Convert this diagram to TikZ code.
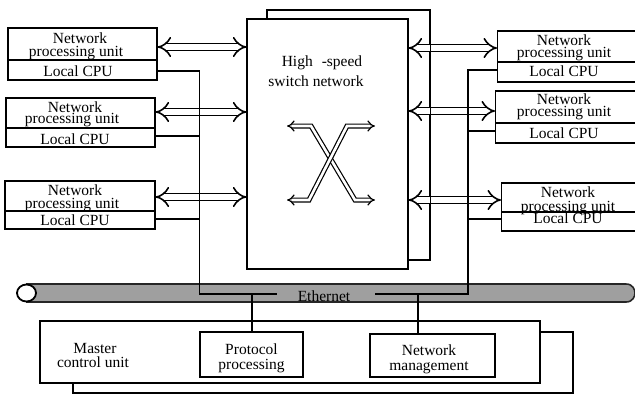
\documentclass[tikz,border=0pt]{standalone}
\usepackage{fontspec}
\setmainfont{Liberation Serif}
\usetikzlibrary{arrows.meta}
\begin{document}
\begin{tikzpicture}[x=1pt,y=-1pt,
  every node/.style={font=\fontsize{15.5}{16}\selectfont},
  box/.style={draw,line width=1.3pt,fill=white,inner sep=0pt},
  lbl/.style={anchor=base,inner sep=0pt},
  wire/.style={line width=1.3pt},
  dbl/.style={double,line width=1.6pt,double distance=5.4pt,{Implies}-{Implies}},
  xstroke/.style={double,line width=1.2pt,double distance=2.6pt,{Implies}-{Implies}},
]
\useasboundingbox (0,0) rectangle (635,396);
\clip (0,0) rectangle (635,396);

% ---------- switch fabric (two stacked planes) ----------
\node[box,minimum width=163pt,minimum height=250pt] (SWb) at (348.5,135) {};
\node[box,minimum width=161pt,minimum height=250pt] (SW) at (327.5,144) {};
\node[lbl] (swt1) at (322,66.5) {High\hspace{9pt}-speed};
\node[lbl] (swt2) at (316,86.5) {switch network};
\draw[xstroke] (287,126) -- (311,126) -- (355,200) -- (375,200);
\draw[xstroke] (375,126) -- (347,126) -- (309,200) -- (287,200);

% ---------- line cards, left ----------
\node[box,minimum width=149pt,minimum height=52pt] (L1) at (82.5,54) {};
\node[box,minimum width=149pt,minimum height=49pt] (L2) at (80.5,122.5) {};
\node[box,minimum width=150pt,minimum height=48pt] (L3) at (80,205) {};
\draw[wire] (L1.west |- 0,60) -- (L1.east |- 0,60);
\draw[wire] (L2.west |- 0,128) -- (L2.east |- 0,128);
\draw[wire] (L3.west |- 0,211) -- (L3.east |- 0,211);
\node[lbl] at (80,44) {Network};
\node[lbl] at (76,57) {processing unit};
\node[lbl] at (78,77) {Local CPU};
\node[lbl] at (75,112) {Network};
\node[lbl] at (72,124) {processing unit};
\node[lbl] at (75,144) {Local CPU};
\node[lbl] at (75,195) {Network};
\node[lbl] at (72,208) {processing unit};
\node[lbl] at (75,225) {Local CPU};

% ---------- line cards, right ----------
\node[box,minimum width=150pt,minimum height=51pt,anchor=west] (R1) at (497,56.5) {};
\node[box,minimum width=150pt,minimum height=52pt,anchor=west] (R2) at (495,117) {};
\node[box,minimum width=150pt,minimum height=48pt,anchor=west] (R3) at (501,207) {};
\draw[wire] (R1.west |- 0,62) -- (R1.east |- 0,62);
\draw[wire] (R2.west |- 0,123) -- (R2.east |- 0,123);
\draw[wire] (R3.west |- 0,212) -- (R3.east |- 0,212);
\node[lbl] at (564,46) {Network};
\node[lbl] at (564,58) {processing unit};
\node[lbl] at (564,77) {Local CPU};
\node[lbl] at (564,104) {Network};
\node[lbl] at (564,117) {processing unit};
\node[lbl] at (564,138) {Local CPU};
\node[lbl] at (568,197) {Network};
\node[lbl] at (568,211) {processing unit};
\node[lbl] at (568,223) {Local CPU};

% ---------- data paths to the fabric ----------
\draw[dbl] ([yshift=7pt]L1.east) -- ([yshift=7pt]L1.east -| SW.west);
\draw[dbl] ([yshift=10.5pt]L2.east) -- ([yshift=10.5pt]L2.east -| SW.west);
\draw[dbl] ([yshift=8pt]L3.east) -- ([yshift=8pt]L3.east -| SW.west);
\draw[dbl] ([yshift=8.5pt]R1.west -| SW.east) -- ([yshift=8.5pt]R1.west);
\draw[dbl] ([yshift=6pt]R2.west -| SW.east) -- ([yshift=6pt]R2.west);
\draw[dbl] ([yshift=7pt]R3.west -| SW.east) -- ([yshift=7pt]R3.west);
\draw[line width=1.3pt] (SWb.north east) -- (SWb.south east);

% ---------- Ethernet bus ----------
\fill[gray!75] (26,284) -- (626,284) .. controls (633,284) and (635,290) .. (635,293)
  .. controls (635,296) and (633,302) .. (626,302) -- (26,302) -- cycle;
\draw[line width=1.6pt,black!85] (26,284) -- (626,284) .. controls (633,284) and (635,290) .. (635,293)
  .. controls (635,296) and (633,302) .. (626,302) -- (26,302);
\draw[line width=1.8pt,fill=white] (26.5,293) ellipse [x radius=9.5pt, y radius=8.5pt];
\node[lbl] (eth) at (324,301) {Ethernet};

% ---------- master control unit ----------
\node[box,minimum width=500pt,minimum height=61pt] (MCb) at (323,362.5) {};
\node[box,minimum width=500pt,minimum height=62pt] (MC) at (290,352) {};
\node[lbl] at (95,353) {Master};
\node[lbl] at (93,367) {control unit};
\node[box,minimum width=103pt,minimum height=45pt] (PP) at (251.5,354.5) {};
\node[lbl] at (251.5,354) {Protocol};
\node[lbl] at (251.5,369) {processing};
\node[box,minimum width=125pt,minimum height=43pt] (NM) at (432.5,355.5) {};
\node[lbl] at (429,355) {Network};
\node[lbl] at (429,370) {management};

% ---------- control buses ----------
\coordinate (lb1) at (199.5,71);
\coordinate (lb2) at (199.5,136);
\coordinate (lb3) at (199.5,219);
\coordinate (lbB) at (199.5,294);
\coordinate (lbE) at (277,294);
\coordinate (ltap) at (252,294);
\draw[wire] (L1.east |- lb1) -- (lb1) -- (lbB) -- (lbE);
\draw[wire] (L2.east |- lb2) -- (lb2);
\draw[wire] (L3.east |- lb3) -- (lb3);
\draw[wire] (ltap) -- (ltap |- PP.north);

\coordinate (rb1) at (468,70);
\coordinate (rb2) at (468,131);
\coordinate (rb3) at (468,219);
\coordinate (rbB) at (468,294);
\coordinate (rbE) at (375,294);
\coordinate (rtap) at (418,294);
\draw[wire] (R1.west |- rb1) -- (rb1) -- (rbB) -- (rbE);
\draw[wire] (R2.west |- rb2) -- (rb2);
\draw[wire] (R3.west |- rb3) -- (rb3);
\draw[wire] (rtap) -- (rtap |- NM.north);
\end{tikzpicture}
\end{document}
